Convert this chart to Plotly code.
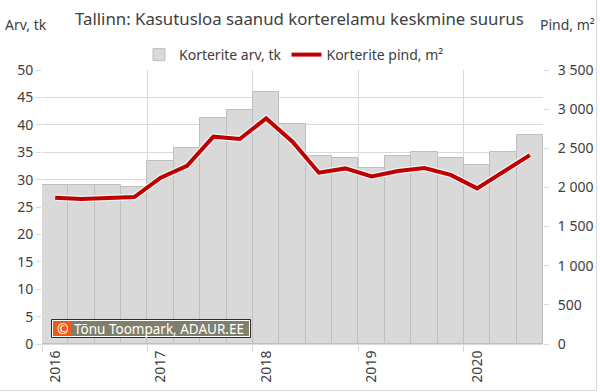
import plotly.graph_objects as go

# ---- data ----
quarters = ["2016 Q1", "2016 Q2", "2016 Q3", "2016 Q4",
            "2017 Q1", "2017 Q2", "2017 Q3", "2017 Q4",
            "2018 Q1", "2018 Q2", "2018 Q3", "2018 Q4",
            "2019 Q1", "2019 Q2", "2019 Q3", "2019 Q4",
            "2020 Q1", "2020 Q2", "2020 Q3"]
apartments_k = [29.0, 29.0, 29.0, 28.6, 33.4, 35.7, 41.3, 42.7, 45.9, 40.2,
                34.3, 33.9, 32.1, 34.3, 35.0, 33.9, 32.6, 35.0, 38.1]
area_m2 = [1868, 1852, 1864, 1877, 2124, 2277, 2648, 2618, 2882, 2584,
           2188, 2243, 2141, 2209, 2248, 2160, 1988, 2200, 2413]
year_tick_pos = [0, 4, 8, 12, 16]
year_labels = ["2016", "2017", "2018", "2019", "2020"]
left_ticks = [0, 5, 10, 15, 20, 25, 30, 35, 40, 45, 50]
right_ticks = [0, 500, 1000, 1500, 2000, 2500, 3000, 3500]
right_tick_labels = ["0", "500", "1 000", "1 500", "2 000", "2 500", "3 000", "3 500"]

x_idx = list(range(len(quarters)))

FONT = "Noto Sans"
TXT = "#404040"
GRID = "#d9d9d9"

# plot-area pixel geometry helpers (for text / decoration placement)
L, R, T, B, W, H = 42, 57, 70, 48, 600, 392
PW, PH = W - L - R, H - T - B
def px(x):
    return (x - L) / PW
def py(y):
    return (H - B - y) / PH

fig = go.Figure()
fig.add_trace(go.Bar(
    x=x_idx, y=apartments_k, name="Korterite arv, tk",
    marker=dict(color="#d9d9d9", line=dict(color="#bfbfbf", width=1)),
    hovertext=quarters,
))
fig.add_trace(go.Scatter(
    x=x_idx, y=area_m2, yaxis="y2", mode="lines", showlegend=False,
    line=dict(color="rgba(235,248,250,0.95)", width=6.5), hoverinfo="skip",
))
fig.add_trace(go.Scatter(
    x=x_idx, y=area_m2, yaxis="y2", mode="lines", name="Korterite pind, m²",
    line=dict(color="#c00000", width=4),
    hovertext=quarters,
))

fig.update_layout(
    width=W, height=H,
    margin=dict(l=L, r=R, t=T, b=B, pad=0, autoexpand=False),
    paper_bgcolor="white", plot_bgcolor="white",
    font=dict(family=FONT, size=14, color=TXT),
    bargap=0,
    showlegend=True,
    legend=dict(orientation="h", x=px(294), xanchor="center", y=py(55), yanchor="middle",
                font=dict(size=14, color=TXT), itemwidth=30, tracegroupgap=0,
                bgcolor="rgba(0,0,0,0)"),
    xaxis=dict(
        range=[-0.5, len(quarters) - 0.5], automargin=False,
        tickmode="array", tickvals=year_tick_pos, ticktext=year_labels,
        tickangle=-90, ticks="", showgrid=False, zeroline=False,
        showline=True, linecolor=GRID, linewidth=1,
        tickfont=dict(size=14, color=TXT),
        minor=dict(tick0=-0.5, dtick=4, ticks="outside", ticklen=7,
                   tickcolor=GRID, showgrid=True, gridcolor=GRID, gridwidth=1),
    ),
    yaxis=dict(
        range=[0, 50], tickmode="array", tickvals=left_ticks, automargin=False,
        showgrid=True, gridcolor=GRID, gridwidth=1, zeroline=False,
        ticks="outside", ticklen=5, tickcolor=GRID,
        tickfont=dict(size=14, color=TXT),
    ),
    yaxis2=dict(
        range=[0, 3500], overlaying="y", side="right", automargin=False,
        tickmode="array", tickvals=right_ticks, ticktext=right_tick_labels,
        showgrid=False, zeroline=False,
        ticks="outside", ticklen=5, tickcolor=GRID, ticklabelstandoff=6,
        tickfont=dict(size=14, color=TXT),
    ),
)

annotations = [
    dict(text="Tallinn: Kasutusloa saanud korterelamu keskmine suurus",
         x=px(299), y=py(18), xref="paper", yref="paper",
         xanchor="center", yanchor="middle", showarrow=False,
         font=dict(size=16.8, color=TXT, family=FONT)),
    dict(text="Arv, tk", x=px(3), y=py(24), xref="paper", yref="paper",
         xanchor="left", yanchor="middle", showarrow=False,
         font=dict(size=14, color=TXT, family=FONT)),
    dict(text="Pind, m²", x=px(597), y=py(24), xref="paper", yref="paper",
         xanchor="right", yanchor="middle", showarrow=False,
         font=dict(size=14, color=TXT, family=FONT)),
    # copyright badge texts
    dict(text="©", x=px(62.5), y=py(328.5), xref="paper", yref="paper",
         xanchor="center", yanchor="middle", showarrow=False,
         font=dict(size=14, color="white", family=FONT)),
    dict(text="Tõnu Toompark, ADAUR.EE", x=px(72), y=py(328.5), xref="paper", yref="paper",
         xanchor="left", yanchor="middle", showarrow=False,
         font=dict(size=13.5, color="white", family=FONT)),
]
fig.update_layout(annotations=annotations)

# copyright badge frame (dark outer, white inner, grey fill, orange square)
fig.add_shape(type="rect", xref="paper", yref="paper", layer="above",
              x0=px(51.5), x1=px(250.5), y0=py(337.5), y1=py(319.5),
              line=dict(color="#2b2b2b", width=1), fillcolor="white")
fig.add_shape(type="rect", xref="paper", yref="paper", layer="above",
              x0=px(53), x1=px(249), y0=py(336), y1=py(321),
              line=dict(width=0), fillcolor="#7f7f6c")
fig.add_shape(type="rect", xref="paper", yref="paper", layer="above",
              x0=px(54), x1=px(71), y0=py(335), y1=py(322),
              line=dict(width=0), fillcolor="#f05a14")

# light outer frame of the chart area (right / bottom edges visible)
fig.add_shape(type="rect", xref="paper", yref="paper",
              x0=px(-2), x1=px(596.5), y0=py(390.5), y1=py(-2),
              line=dict(color=GRID, width=1), fillcolor="rgba(0,0,0,0)", layer="below")

fig.write_html("out.html", config={"displayModeBar": False},
               post_script="document.body.style.margin='0';document.body.style.overflow='hidden';")
